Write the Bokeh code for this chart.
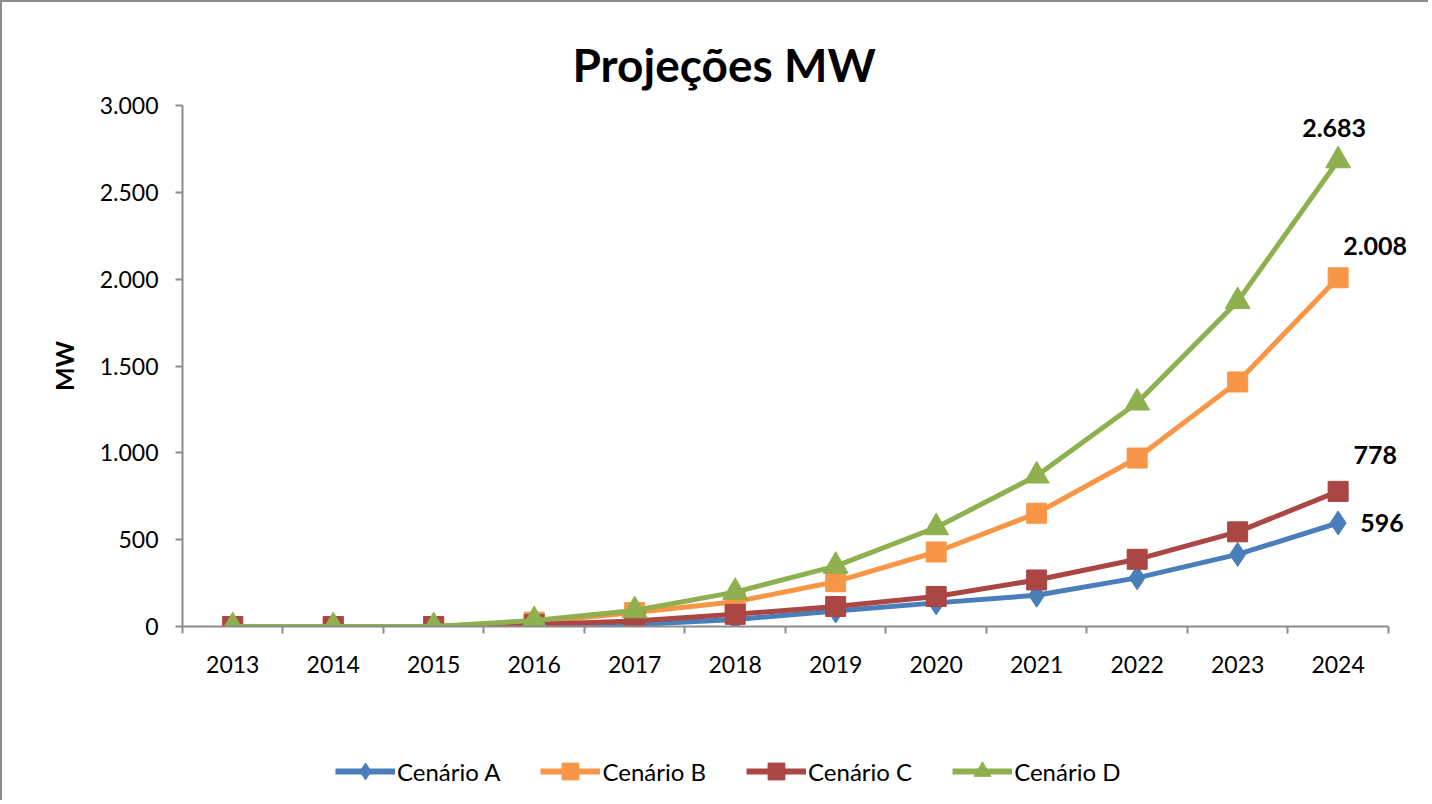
import numpy as np
from bokeh.plotting import figure
from bokeh.layouts import column
from bokeh.models import FixedTicker, Legend, LegendItem, ColumnDataSource, Range1d
from bokeh.core.properties import value
from bokeh.embed import file_html
from bokeh.resources import INLINE

# ---------------- data ----------------
years = ["2013", "2014", "2015", "2016", "2017", "2018",
         "2019", "2020", "2021", "2022", "2023", "2024"]
cenario_a = [0, 0, 0, 5, 12, 40, 89, 136, 180, 280, 415, 596]
cenario_b = [0, 0, 0, 25, 80, 142, 258, 429, 652, 970, 1408, 2008]
cenario_c = [0, 0, 0, 12, 32, 70, 115, 173, 268, 387, 545, 778]
cenario_d = [0, 0, 0, 35, 92, 198, 348, 570, 868, 1288, 1872, 2683]
series_names = ["Cenário A", "Cenário B", "Cenário C", "Cenário D"]
y_ticks = [0, 500, 1000, 1500, 2000, 2500, 3000]
y_tick_labels = ["0", "500", "1.000", "1.500", "2.000", "2.500", "3.000"]
title_text = "Projeções MW"
y_title = "MW"

# ---------------- styling ----------------
FONT = "Lato"
GRAY = "#8c8c8c"
colors = ["#4a7ebb", "#f79646", "#aa4643", "#8fb04e"]
markers = ["diamond", "square", "square", "triangle"]
marker_sizes = [24, 20, 20, 25]
label_dx = [22, 37, 37, -4]
label_dy = [0, -32, -36, -33]
label_align = ["left", "center", "center", "center"]

n = len(years)
xs = np.arange(n) + 0.5
series = [cenario_a, cenario_b, cenario_c, cenario_d]

p = figure(width=1428, height=700, output_backend="svg", toolbar_location=None,
           x_range=Range1d(0, n + 0.25), y_range=Range1d(0, 3000),
           min_border_left=180, min_border_right=17, min_border_top=103,
           min_border_bottom=76)
p.styles = {"border-left": f"2px solid {GRAY}", "border-top": f"2px solid {GRAY}"}
p.outline_line_color = None
p.xgrid.visible = False
p.ygrid.visible = False

# title
p.title.text = title_text
p.title.text_font = FONT
p.title.text_font_size = "46px"
p.title.text_font_style = "bold"
p.title.align = "left"
p.title.offset = 390
p.title.standoff = 28
p.title.text_color = "#000000"

# x axis: ticks between categories (minor), labels at category centres
p.xaxis.bounds = (0, n)
p.xaxis.ticker = FixedTicker(ticks=list(xs), minor_ticks=list(range(n + 1)))
p.xaxis.major_label_overrides = {float(x): y for x, y in zip(xs, years)}
p.xaxis.major_tick_out = 0
p.xaxis.major_tick_in = 0
p.xaxis.minor_tick_out = 7
p.xaxis.minor_tick_in = 0
p.xaxis.minor_tick_line_color = GRAY
p.xaxis.minor_tick_line_width = 2
p.xaxis.axis_line_color = GRAY
p.xaxis.axis_line_width = 2
p.xaxis.major_label_text_font = FONT
p.xaxis.major_label_text_font_size = "23px"
p.xaxis.major_label_text_color = "#000000"
p.xaxis.major_label_standoff = 22

# y axis
p.yaxis.ticker = FixedTicker(ticks=y_ticks, minor_ticks=[])
p.yaxis.major_label_overrides = {t: l for t, l in zip(y_ticks, y_tick_labels)}
p.yaxis.major_tick_out = 7
p.yaxis.major_tick_in = 0
p.yaxis.major_tick_line_color = GRAY
p.yaxis.major_tick_line_width = 2
p.yaxis.axis_line_color = GRAY
p.yaxis.axis_line_width = 2
p.yaxis.major_label_text_font = FONT
p.yaxis.major_label_text_font_size = "23px"
p.yaxis.major_label_text_color = "#000000"
p.yaxis.major_label_standoff = 17
p.yaxis.axis_label = y_title
p.yaxis.axis_label_text_font = FONT
p.yaxis.axis_label_text_font_size = "25px"
p.yaxis.axis_label_text_font_style = "bold"
p.yaxis.axis_label_text_color = "#000000"
p.yaxis.axis_label_standoff = 18

for vals, col, mk, ms in zip(series, colors, markers, marker_sizes):
    src = ColumnDataSource(dict(x=xs, y=vals))
    p.line("x", "y", source=src, line_color=col, line_width=5)
    p.scatter("x", "y", source=src, marker=mk, size=ms, fill_color=col, line_color=col)

# last-point data labels
for vals, dx, dy, al in zip(series, label_dx, label_dy, label_align):
    last = vals[-1]
    txt = f"{last:,}".replace(",", ".")
    p.text(x=[xs[-1]], y=[last], text=[txt], x_offset=dx, y_offset=dy,
           text_font=value(FONT), text_font_size="25px", text_font_style="bold",
           text_align=al, text_baseline="middle", text_color="#000000")

# ---------------- legend strip below the chart ----------------
# same series, drawn outside the strip's visible range, used only as legend keys
lg = figure(width=1428, height=100, output_backend="svg", toolbar_location=None,
            x_range=Range1d(0, n), y_range=Range1d(-20, -10),
            x_axis_location=None, y_axis_location=None, min_border=0)
lg.styles = {"border-left": f"2px solid {GRAY}"}
lg.outline_line_color = None
lg.xgrid.visible = False
lg.ygrid.visible = False
items = []
for name, vals, col, mk in zip(series_names, series, colors, markers):
    key_src = ColumnDataSource(dict(x=xs, y=vals))
    r1 = lg.line("x", "y", source=key_src, line_color=col, line_width=6)
    r2 = lg.scatter("x", "y", source=key_src, marker=mk, fill_color=col, line_color=col)
    items.append(LegendItem(label=name, renderers=[r1, r2]))

legend = Legend(items=items, orientation="horizontal", location=(153, 8),
                label_text_font=FONT, label_text_font_size="24px",
                label_text_color="#000000", glyph_width=60, glyph_height=42,
                spacing=40, label_standoff=2, border_line_color=None,
                background_fill_alpha=0, margin=0, padding=0)
lg.add_layout(legend, "center")

layout = column(p, lg, spacing=0)
open("out.html", "w").write(file_html(layout, INLINE))
